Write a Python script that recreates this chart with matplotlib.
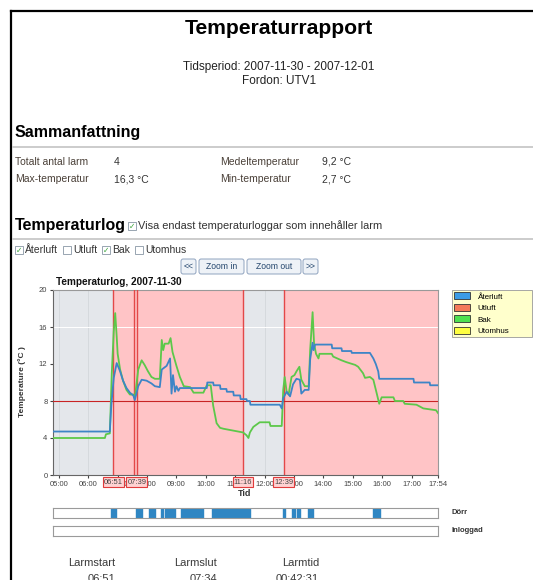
import matplotlib
matplotlib.use('Agg')
import matplotlib.pyplot as plt
import matplotlib.transforms as mtransforms
from matplotlib.patches import Rectangle, FancyBboxPatch, Patch
from matplotlib.lines import Line2D

plt.rcParams['font.family'] = ['Liberation Sans', 'DejaVu Sans']

aterluft_t = ['04:48', '06:44', '06:47', '06:52', '06:58', '07:02', '07:05', '07:11', '07:18',
              '07:25', '07:32', '07:35', '07:42', '07:49', '07:59', '08:09', '08:16', '08:26',
              '08:30', '08:40', '08:47', '08:50', '08:53', '08:57', '09:00', '09:04', '09:07',
              '10:02', '10:03', '10:15', '10:16', '10:29', '10:30', '10:42', '10:43', '10:56',
              '10:57', '11:10', '11:11', '11:23', '11:24', '11:30', '11:31', '12:31', '12:35',
              '12:38', '12:45', '12:52', '12:58', '13:05', '13:12', '13:15', '13:22', '13:30',
              '13:33', '13:38', '13:40', '13:43', '14:17', '14:18', '14:37', '14:38', '14:57',
              '14:58', '15:35', '15:42', '15:47', '15:52', '15:54', '17:04', '17:05', '17:37',
              '17:38', '17:54']
aterluft_v = [4.7, 4.7, 7.5, 10.5, 12.1, 11.6, 11.2, 10.2, 9.4,
              8.9, 8.6, 8.1, 9.6, 10.3, 10.2, 9.9, 9.6, 9.5,
              11.4, 11.8, 12.6, 8.8, 10.8, 9.0, 9.6, 9.1, 9.4,
              9.4, 10.0, 10.0, 9.7, 9.7, 9.3, 9.3, 9.0, 9.0,
              8.6, 8.6, 8.2, 8.2, 8.0, 8.0, 7.6, 7.6, 7.2,
              8.3, 9.0, 8.5, 9.8, 10.4, 10.3, 8.8, 9.2, 9.2,
              12.5, 14.3, 13.5, 14.1, 14.1, 13.7, 13.7, 13.4, 13.4,
              13.2, 13.2, 12.6, 12.0, 11.2, 10.4, 10.4, 10.0, 10.0,
              9.7, 9.7]

bak_t = ['04:48', '06:34', '06:36', '06:44', '06:48', '06:52', '06:55', '06:58', '07:00',
         '07:05', '07:11', '07:18', '07:25', '07:32', '07:35', '07:42', '07:49', '07:55',
         '08:02', '08:09', '08:16', '08:26', '08:30', '08:33', '08:36', '08:44', '08:48',
         '08:52', '09:00', '09:07', '09:15', '09:28', '09:35', '09:55', '10:02', '10:10',
         '10:15', '10:22', '10:29', '10:36', '10:56', '11:16', '11:23', '11:27', '11:30',
         '11:37', '11:50', '12:10', '12:12', '12:35', '12:38', '12:41', '12:45', '12:49',
         '12:55', '13:01', '13:05', '13:11', '13:15', '13:22', '13:30', '13:33', '13:38',
         '13:41', '13:45', '13:50', '13:52', '14:17', '14:20', '14:37', '14:47', '15:05',
         '15:11', '15:21', '15:25', '15:35', '15:42', '15:49', '15:54', '15:59', '16:23',
         '16:26', '16:43', '16:46', '17:10', '17:24', '17:50', '17:54']
bak_v = [4.0, 4.0, 4.4, 4.5, 11.0, 15.5, 17.5, 15.0, 13.1,
         11.4, 10.2, 9.2, 8.7, 8.7, 8.3, 11.4, 12.4, 11.9,
         11.2, 10.6, 10.4, 10.4, 14.6, 13.5, 14.2, 14.2, 14.8,
         13.3, 11.8, 10.6, 9.6, 9.5, 8.9, 8.9, 9.7, 9.7,
         7.5, 5.6, 5.1, 5.0, 4.8, 4.6, 4.3, 4.0, 4.6,
         5.2, 5.7, 5.7, 5.3, 5.3, 9.2, 10.6, 9.0, 8.7,
         10.6, 10.8, 11.2, 11.7, 10.3, 9.6, 9.6, 13.5, 17.6,
         14.2, 13.1, 12.6, 13.1, 13.1, 12.8, 12.4, 12.2, 11.9,
         11.7, 11.0, 10.5, 10.6, 10.3, 8.8, 7.7, 8.4, 8.4,
         8.0, 8.0, 7.7, 7.6, 7.2, 7.0, 6.7]

limit_temp = 8
alarm_spans = [('06:51', '11:16'), ('12:39', '17:54')]
alarm_lines = ['06:51', '07:34', '07:39', '11:16', '12:39']
alarm_labels = ['06:51', '07:39', '11:16', '12:39']
door_open = [('06:46', '06:57'), ('07:37', '07:50'), ('08:05', '08:17'), ('08:28', '08:33'),
             ('08:37', '08:50'), ('08:54', '08:58'), ('09:10', '09:54'), ('10:12', '11:31'),
             ('12:37', '12:41'), ('12:55', '13:02'), ('13:06', '13:13'), ('13:29', '13:39'),
             ('15:42', '15:55')]
legend_names = ['Återluft', 'Utluft', 'Bak', 'Utomhus']
legend_colors = ['#3c9be6', '#f47a5a', '#4fe04f', '#ffff40']
summary = [('Totalt antal larm', '4', 'Medeltemperatur', '9,2 °C'),
           ('Max-temperatur', '16,3 °C', 'Min-temperatur', '2,7 °C')]
alarm_table = [('Larmstart', '06:51'), ('Larmslut', '07:34'), ('Larmtid', '00:42:31')]


def hrs(s):
    h, m = s.split(':')
    return int(h) + int(m) / 60


W, H = 533, 580


def fx(x):
    return x / W


def fy(y):
    return 1 - y / H


fig = plt.figure(figsize=(W / 100, H / 100), dpi=100)
fig.patch.set_facecolor('white')

txt = '#333333'

# page frame
fig.add_artist(Line2D([fx(11), fx(11)], [fy(11), fy(580)], transform=fig.transFigure, color='black', lw=1.6))
fig.add_artist(Line2D([fx(11), fx(533)], [fy(11), fy(11)], transform=fig.transFigure, color='black', lw=1.6))

fig.text(fx(279), fy(29), 'Temperaturrapport', ha='center', va='center', fontsize=15.2, fontweight='bold', color='black')
fig.text(fx(279), fy(67), 'Tidsperiod: 2007-11-30 - 2007-12-01', ha='center', va='center', fontsize=8.5, color='#222')
fig.text(fx(279), fy(81), 'Fordon: UTV1', ha='center', va='center', fontsize=8.5, color='#222')

fig.text(fx(15), fy(133), 'Sammanfattning', ha='left', va='center', fontsize=11.5, fontweight='bold', color='black')
fig.add_artist(Line2D([fx(13), fx(533)], [fy(147), fy(147)], transform=fig.transFigure, color='#c4c4c4', lw=1.2))

for i, (l1, v1, l2, v2) in enumerate(summary):
    yy = fy(162 + 17 * i)
    fig.text(fx(15), yy, l1, va='center', fontsize=7.5, color='#4a4038')
    fig.text(fx(114), yy, v1, va='center', fontsize=7.5, color=txt)
    fig.text(fx(220), yy, l2, va='center', fontsize=7.5, color='#4a4038')
    fig.text(fx(322), yy, v2, va='center', fontsize=7.5, color=txt)

fig.text(fx(15), fy(225), 'Temperaturlog', ha='left', va='center', fontsize=11.5, fontweight='bold', color='black')
fig.add_artist(Line2D([fx(13), fx(533)], [fy(239), fy(239)], transform=fig.transFigure, color='#c4c4c4', lw=1.2))


def checkbox(x, y, checked):
    fig.add_artist(Rectangle((fx(x), fy(y + 4)), 8 / W, 8 / H, transform=fig.transFigure,
                             fc='white', ec='#8896a5', lw=0.6))
    if checked:
        fig.text(fx(x + 4), fy(y), '✓', ha='center', va='center', fontsize=5.5,
                 color='#3aa53a', family='DejaVu Sans', fontweight='bold')


checkbox(128, 226, True)
fig.text(fx(138), fy(226), 'Visa endast temperaturloggar som innehåller larm', va='center', fontsize=7.9, color=txt)

checks = [(15, 'Återluft', True), (63, 'Utluft', False), (102, 'Bak', True), (135, 'Utomhus', False)]
for x, name, on in checks:
    checkbox(x, 250, on)
    fig.text(fx(x + 10), fy(250), name, va='center', fontsize=7.5, color=txt)

buttons = [(181, 196, '<<'), (199, 244, 'Zoom in'), (247, 301, 'Zoom out'), (303, 318, '>>')]
for x0, x1, label in buttons:
    fig.add_artist(FancyBboxPatch((fx(x0), fy(274)), (x1 - x0) / W, 15 / H, transform=fig.transFigure,
                                  boxstyle='round,pad=0,rounding_size=0.004', fc='#eef2f7', ec='#8fa3bf', lw=0.7))
    fig.text(fx((x0 + x1) / 2), fy(266.5), label, ha='center', va='center', fontsize=6.2, color='#24466d')

fig.text(fx(56), fy(282), 'Temperaturlog, 2007-11-30', va='center', fontsize=7.2, fontweight='bold', color='#111')

# --- main chart ---
ax = fig.add_axes([fx(53), fy(475), 385 / W, 185 / H])
ax.set_facecolor('#e4e7eb')
ax.set_axisbelow(True)
x0, x1 = hrs('04:48'), hrs('17:54')
ax.set_xlim(x0, x1)
ax.set_ylim(0, 20)

for s, e in alarm_spans:
    ax.axvspan(hrs(s), hrs(e), color='#ffc4c6', lw=0, zorder=1)
ax.axhline(16, color='white', lw=0.7, zorder=1.5)
for t in alarm_lines:
    ax.axvline(hrs(t), color='#e34848', lw=1.0, zorder=3)
ax.axhline(limit_temp, color='#c82424', lw=0.8, zorder=3)

ax.plot([hrs(t) for t in bak_t], bak_v, color='#5cc84a', lw=1.3, zorder=4)
ax.plot([hrs(t) for t in aterluft_t], aterluft_v, color='#3d85c6', lw=1.3, zorder=5)

hour_ticks = list(range(5, 18)) + [x1]
hour_labels = ['%02d:00' % h for h in range(5, 18)] + ['17:54']
ax.set_xticks(hour_ticks)
ax.set_xticklabels(hour_labels)
ax.set_yticks([0, 4, 8, 12, 16, 20])
ax.tick_params(labelsize=5.5, length=2.5, pad=1.5, colors='#444')
ax.grid(True, axis='x', color='#cfd3d8', lw=0.5)
for sp in ['left', 'bottom']:
    ax.spines[sp].set_color('#666')
for sp in ['top', 'right']:
    ax.spines[sp].set_color('#999')

trans = mtransforms.blended_transform_factory(ax.transData, ax.transAxes)
for t in alarm_labels:
    ax.text(hrs(t), -0.038, t, transform=trans, ha='center', va='center', fontsize=5.5, color='#444',
            zorder=10, clip_on=False,
            bbox=dict(boxstyle='square,pad=0.15', fc='#ffd2d2', ec='#e03c3c', lw=0.8))

fig.text(fx(22), fy(382), 'Temperature (°C )', rotation=90, ha='center', va='center', fontsize=6,
         fontweight='bold', color='#333')
fig.text(fx(245), fy(493), 'Tid', ha='center', va='center', fontsize=6.5, fontweight='bold', color='#333')

handles = [Patch(fc=c, ec='#333', lw=0.6) for c in legend_colors]
leg = fig.legend(handles, legend_names, loc='upper left',
                 bbox_to_anchor=(fx(452), fy(334), 80 / W, 44 / H), mode='expand',
                 fontsize=5.8, frameon=True, fancybox=False, framealpha=1, borderpad=0.3,
                 labelspacing=0.4, handlelength=1.9, handleheight=0.95, handletextpad=1.0,
                 borderaxespad=0)
leg.get_frame().set_facecolor('#ffffcc')
leg.get_frame().set_edgecolor('#999999')
leg.get_frame().set_linewidth(0.6)

# --- door / login bars ---
ax_d = fig.add_axes([fx(53), fy(518), 385 / W, 10 / H])
ax_d.broken_barh([(hrs(s), hrs(e) - hrs(s)) for s, e in door_open], (0, 1), color='#2f86c3')
ax_i = fig.add_axes([fx(53), fy(536), 385 / W, 10 / H])
for a in (ax_d, ax_i):
    a.set_xlim(x0, x1)
    a.set_ylim(0, 1)
    a.set_xticks([])
    a.set_yticks([])
    for sp in a.spines.values():
        sp.set_color('#9a9a9a')
        sp.set_linewidth(0.8)
fig.text(fx(452), fy(513), 'Dörr', va='center', fontsize=5.5, fontweight='bold', color='#333')
fig.text(fx(452), fy(531), 'Inloggad', va='center', fontsize=5.5, fontweight='bold', color='#333')

right_edges = [115, 217, 319]
for xr, (head, val) in zip(right_edges, alarm_table):
    fig.text(fx(xr), fy(563), head, ha='right', va='center', fontsize=8, color='#3a3a3a')
    fig.text(fx(xr), fy(579), val, ha='right', va='center', fontsize=8, color='#3a3a3a')

fig.savefig('out.png', dpi=100)
